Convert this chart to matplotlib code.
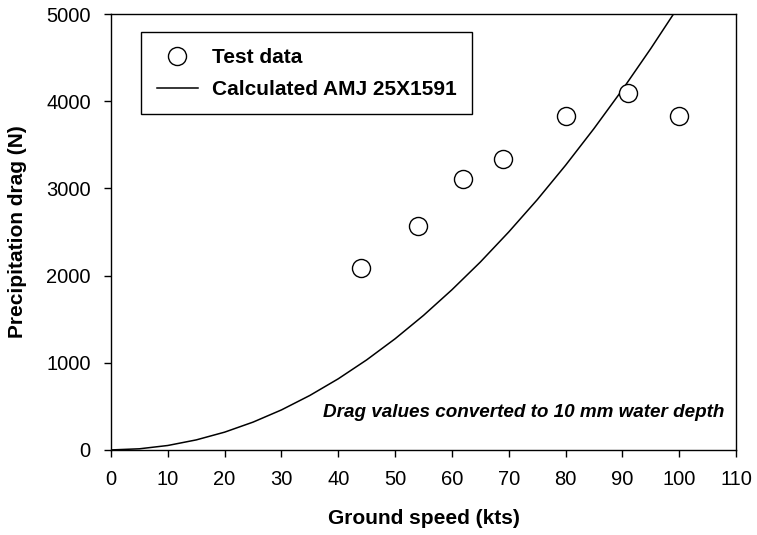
import matplotlib.pyplot as plt

plt.rcParams['font.family'] = ['Liberation Sans', 'DejaVu Sans']

# test data
speedTest = [44, 54, 62, 69, 80, 91, 100]
dragTest = [2090, 2570, 3110, 3340, 3830, 4090, 3830]

# calculated curve
speedCalc = [0, 5, 10, 15, 20, 25, 30, 35, 40, 45, 50, 55, 60, 65, 70, 75, 80, 85, 90, 95, 99]
dragCalc = [0, 13, 51, 115, 204, 319, 459, 625, 816, 1033, 1275, 1543, 1837, 2155,
            2500, 2869, 3265, 3686, 4132, 4604, 5000]

xTicks = [0, 10, 20, 30, 40, 50, 60, 70, 80, 90, 100, 110]
yTicks = [0, 1000, 2000, 3000, 4000, 5000]

fig = plt.figure(figsize=(7.57, 5.35), dpi=100)
ax = fig.add_axes([0.1466, 0.159, 0.8257, 0.8148])

ax.plot(speedTest, dragTest, linestyle="none", marker="o", markersize=13,
        markerfacecolor="white", markeredgecolor="black", markeredgewidth=1,
        label="Test data", zorder=3)
ax.plot(speedCalc, dragCalc, color="black", linewidth=1.1,
        label="Calculated AMJ 25X1591", zorder=2)

ax.set_xlim(0, 110)
ax.set_ylim(0, 5000)
ax.set_xticks(xTicks)
ax.set_yticks(yTicks)
ax.tick_params(direction="out", length=5, width=1, labelsize=14.5, pad=9.5)

for s in ax.spines.values():
    s.set_linewidth(1)

ax.set_xlabel("Ground speed (kts)", fontsize=15, fontweight="bold", labelpad=14)
ax.set_ylabel("Precipitation drag (N)", fontsize=15, fontweight="bold", labelpad=14)

ax.text(0.982, 0.087, "Drag values converted to 10 mm water depth", transform=ax.transAxes,
        ha="right", va="center", fontsize=13.6, fontweight="bold", style="italic")

leg = ax.legend(loc="upper left", bbox_to_anchor=(0.048, 0.958), borderaxespad=0,
                fancybox=False, edgecolor="black", framealpha=1, handlelength=2.0,
                handletextpad=0.65, borderpad=0.75, labelspacing=0.62,
                prop={"weight": "bold", "size": 15})
leg.get_frame().set_linewidth(1)

fig.savefig("out.png", dpi=100)
